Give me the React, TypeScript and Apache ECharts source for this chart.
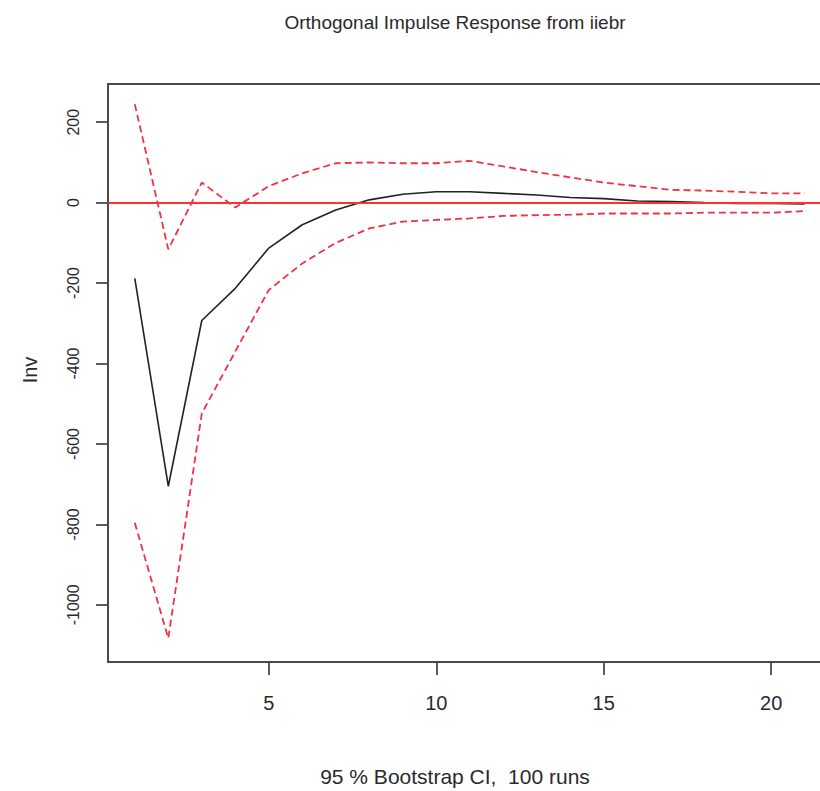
import React, { useEffect, useRef } from "react";
import * as echarts from "echarts";

const steps = [1, 2, 3, 4, 5, 6, 7, 8, 9, 10, 11, 12, 13, 14, 15, 16, 17, 18, 19, 20, 21];
const response = [-188, -705, -293, -213, -113, -55, -18, 7, 21, 27, 27, 23, 19, 13, 10, 4, 3, 0, -2, -2, -3];
const upperCI = [245, -116, 50, -12, 41, 73, 98, 100, 98, 98, 104, 90, 76, 63, 50, 41, 32, 30, 27, 23, 23];
const lowerCI = [-796, -1083, -524, -370, -217, -151, -100, -64, -47, -43, -39, -33, -31, -30, -27, -27, -27, -25, -25, -25, -21];
const xTicks = [5, 10, 15, 20];
const yTicks = [-1000, -800, -600, -400, -200, 0, 200];

const titleText = "Orthogonal Impulse Response from iiebr";
const xLabelText = "95 % Bootstrap CI,  100 runs";
const yLabelText = "Inv";

export default function App() {
  const ref = useRef<HTMLDivElement>(null);
  useEffect(() => {
    if (!ref.current) return;
    const chart = echarts.init(ref.current, null, { renderer: "svg" });
    const font = "'Liberation Sans', Arial, sans-serif";
    const pair = (ys: number[]) => steps.map((x, i) => [x, ys[i]]);
    const frame = "#4a4a4a";
    chart.setOption({
      animation: false,
      backgroundColor: "#ffffff",
      textStyle: { fontFamily: font },
      grid: {
        left: 108,
        top: 84,
        width: 723.5,
        height: 578,
        show: true,
        borderColor: frame,
        borderWidth: 2,
        backgroundColor: "transparent",
        outerBoundsMode: "none",
        containLabel: false,
      },
      xAxis: {
        type: "value",
        position: "bottom",
        min: 0.2,
        max: 21.8,
        axisLine: { show: true, onZero: false, lineStyle: { color: frame, width: 2 } },
        splitLine: { show: false },
        axisTick: { show: true, inside: false, length: 13, lineStyle: { color: frame, width: 1.8 }, customValues: xTicks },
        axisLabel: { customValues: xTicks, fontSize: 20, color: "#2a2a2a", margin: 31, fontFamily: font, formatter: (v: number) => String(v) },
      },
      yAxis: {
        type: "value",
        position: "left",
        min: -1142,
        max: 295,
        axisLine: { show: true, onZero: false, lineStyle: { color: frame, width: 2 } },
        splitLine: { show: false },
        axisTick: { show: true, inside: false, length: 12, lineStyle: { color: frame, width: 1.8 }, customValues: yTicks },
        axisLabel: { customValues: yTicks, fontSize: 16, rotate: 90, color: "#2a2a2a", margin: 27, fontFamily: font, formatter: (v: number) => String(v) },
      },
      series: [
        {
          type: "line",
          data: pair(response),
          symbol: "none",
          lineStyle: { color: "#222222", width: 1.6 },
          z: 2,
        },
        {
          type: "line",
          data: pair(upperCI),
          symbol: "none",
          lineStyle: { color: "#ee3344", width: 1.8, type: [7, 4] },
          z: 3,
        },
        {
          type: "line",
          data: pair(lowerCI),
          symbol: "none",
          lineStyle: { color: "#ee3344", width: 1.8, type: [7, 4] },
          z: 3,
          markLine: {
            silent: true,
            symbol: "none",
            label: { show: false },
            lineStyle: { color: "#ff3030", width: 1.8, type: "solid" },
            data: [{ yAxis: 0 }],
          },
        },
      ],
      graphic: [
        {
          type: "text",
          x: 455,
          y: 22,
          style: { text: titleText, fontSize: 19, fontFamily: font, fill: "#2a2a2a", textAlign: "center", textVerticalAlign: "middle" },
        },
        {
          type: "text",
          x: 455,
          y: 776,
          style: { text: xLabelText, fontSize: 21, fontFamily: font, fill: "#2a2a2a", textAlign: "center", textVerticalAlign: "middle" },
        },
        {
          type: "text",
          x: 30,
          y: 370,
          rotation: Math.PI / 2,
          style: { text: yLabelText, fontSize: 20, fontFamily: font, fill: "#2a2a2a", textAlign: "center", textVerticalAlign: "middle" },
        },
      ],
    });
    return () => chart.dispose();
  }, []);
  return <div ref={ref} style={{ position: "absolute", left: 0, top: 0, width: 820, height: 791 }} />;
}
